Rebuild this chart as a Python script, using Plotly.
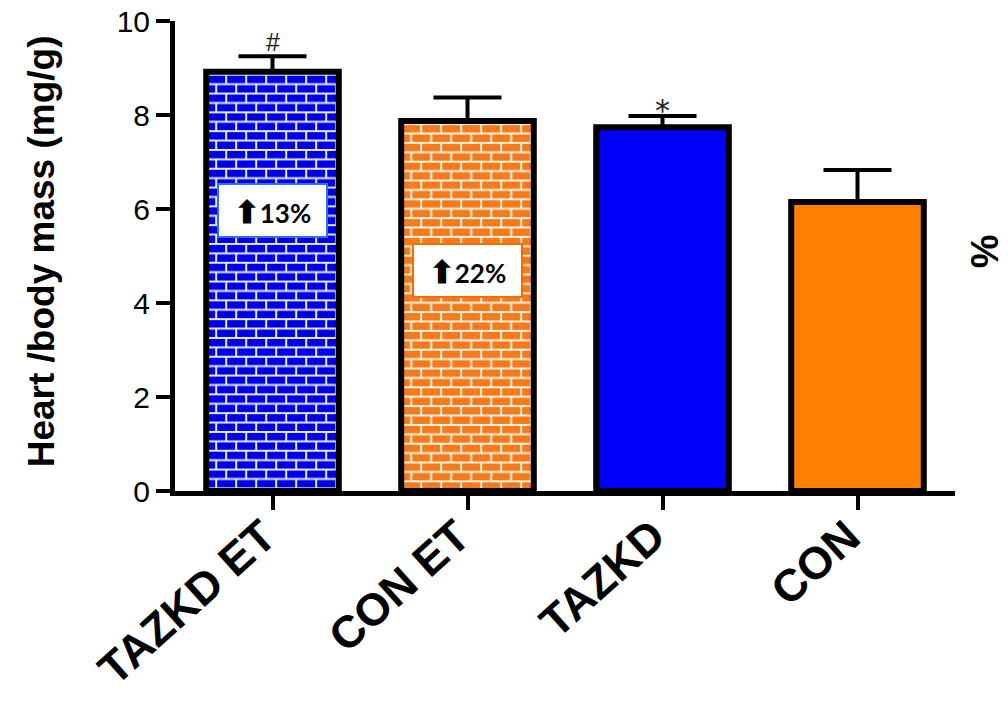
import base64
import plotly.graph_objects as go

# Group means and upper SEM (heart mass / body mass, mg/g)
groups = ["TAZKD ET", "CON ET", "TAZKD", "CON"]
means = [8.92, 7.87, 7.74, 6.15]
sem = [0.33, 0.50, 0.24, 0.68]
brick_fill = [True, True, False, False]
bar_colors = ["#0000e6", "#f47a1c", "#0000ff", "#ff8000"]
mortar_colors = ["#e6e9ff", "#fff1dc", None, None]
sig_marks = ["#", "", "*", ""]
change_labels = ["13%", "22%"]
change_y = [5.96, 4.70]
change_border = ["#2f6bff", "#ff6a00"]

W, H = 1008, 702
M = dict(l=175, r=53, t=21, b=211)
plot_w = W - M["l"] - M["r"]
plot_h = H - M["t"] - M["b"]
X_RANGE = [-0.5, 3.5]
Y_RANGE = [0, 10]
BAR_W = 0.68
px_x = plot_w / (X_RANGE[1] - X_RANGE[0])
px_y = plot_h / (Y_RANGE[1] - Y_RANGE[0])


def brick_svg(w, h, brick, mortar, pw=20.0, ph=9.4, m=2.0):
    """Staggered brick texture as an SVG data URI of w x h pixels."""
    svg = (
        f'<svg xmlns="http://www.w3.org/2000/svg" width="{w:.1f}" height="{h:.1f}" '
        f'viewBox="0 0 {w:.2f} {h:.2f}" preserveAspectRatio="none">'
        f'<defs><pattern id="b" patternUnits="userSpaceOnUse" x="0" y="3" '
        f'width="{pw}" height="{2*ph}">'
        f'<rect width="{pw}" height="{2*ph}" fill="{mortar}"/>'
        f'<rect x="{m/2}" y="{m/2}" width="{pw-m}" height="{ph-m}" fill="{brick}"/>'
        f'<rect x="{-pw/2+m/2}" y="{ph+m/2}" width="{pw-m}" height="{ph-m}" fill="{brick}"/>'
        f'<rect x="{pw/2+m/2}" y="{ph+m/2}" width="{pw-m}" height="{ph-m}" fill="{brick}"/>'
        f'</pattern></defs>'
        f'<rect width="{w:.2f}" height="{h:.2f}" fill="url(#b)"/></svg>'
    )
    return "data:image/svg+xml;base64," + base64.b64encode(svg.encode()).decode()


fill_colors = [
    "rgba(0,0,0,0)" if b else c for b, c in zip(brick_fill, bar_colors)
]

fig = go.Figure()
fig.add_trace(
    go.Bar(
        x=groups,
        y=means,
        width=BAR_W,
        marker=dict(color=fill_colors, line=dict(color="black", width=6)),
        error_y=dict(
            type="data",
            symmetric=False,
            array=sem,
            arrayminus=[0] * len(sem),
            color="black",
            thickness=4,
            width=34,
        ),
        showlegend=False,
    )
)

images = []
for i, (m, b, c, mc) in enumerate(zip(means, brick_fill, bar_colors, mortar_colors)):
    if not b:
        continue
    images.append(
        dict(
            source=brick_svg(BAR_W * px_x, m * px_y, c, mc),
            xref="x", yref="y",
            x=i - BAR_W / 2, y=m,
            sizex=BAR_W, sizey=m,
            xanchor="left", yanchor="top",
            sizing="stretch",
            layer="below",
        )
    )

annotations = []
# percentage-change boxes inside the trained groups' bars
for i, (lab, yv, bc) in enumerate(zip(change_labels, change_y, change_border)):
    annotations.append(
        dict(
            x=i, y=yv, xref="x", yref="y",
            text='<span style="font-size:31px">\u2b06</span>' + lab,
            showarrow=False,
            bgcolor="white",
            bordercolor=bc,
            borderwidth=2,
            borderpad=0,
            width=107, height=51,
            font=dict(family="Lato", size=26, color="black", weight="bold"),
        )
    )
# significance marks above the error bars
for i, (mk, m, e) in enumerate(zip(sig_marks, means, sem)):
    if not mk:
        continue
    if mk == "*":
        font = dict(family="DejaVu Sans", size=30, color="#222")
        shift = -14
    else:
        font = dict(family="Liberation Sans", size=25, color="#111")
        shift = -2
    annotations.append(
        dict(
            x=i, y=m + e, xref="x", yref="y",
            text=mk, showarrow=False,
            yanchor="bottom", yshift=shift,
            font=font,
        )
    )
# rotated category labels under the x axis
for i, g in enumerate(groups):
    annotations.append(
        dict(
            x=i, y=-16 / plot_h, xref="x", yref="paper",
            text=g, textangle=-42, showarrow=False,
            xanchor="right", yanchor="top", xshift=15,
            font=dict(family="Liberation Sans", size=45, color="black", weight="bold"),
        )
    )
annotations.append(
    dict(
        x=(41 - M["l"]) / plot_w, y=0.51, xref="paper", yref="paper",
        xanchor="center", yanchor="middle",
        text="Heart /body mass (mg/g)", textangle=-90, showarrow=False,
        font=dict(family="Liberation Sans", size=37, color="black", weight="bold"),
    )
)
annotations.append(
    dict(
        x=(985 - M["l"]) / plot_w, y=0.51, xref="paper", yref="paper",
        xanchor="center", yanchor="middle",
        text="%", textangle=-90, showarrow=False,
        font=dict(family="Liberation Sans", size=38, color="black", weight="bold"),
    )
)

fig.update_layout(
    width=W, height=H,
    margin=M,
    paper_bgcolor="white",
    plot_bgcolor="white",
    images=images,
    annotations=annotations,
    xaxis=dict(
        range=X_RANGE,
        showline=True, linecolor="black", linewidth=5,
        ticks="outside", ticklen=14, tickwidth=4, tickcolor="black",
        showticklabels=False,
        showgrid=False, zeroline=False, automargin=False,
    ),
    yaxis=dict(
        range=Y_RANGE,
        tickvals=[0, 2, 4, 6, 8, 10],
        showline=True, linecolor="black", linewidth=5,
        ticks="outside", ticklen=14, tickwidth=4, tickcolor="black",
        tickfont=dict(family="Liberation Sans", size=30, color="black"),
        showgrid=False, zeroline=False, automargin=False,
    ),
)

fig.write_html("out.html")
